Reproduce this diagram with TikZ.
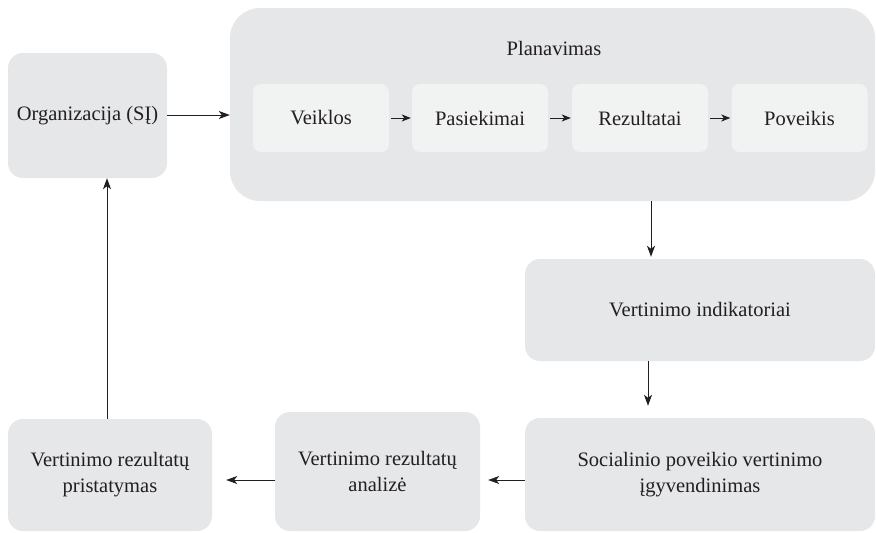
\documentclass[tikz,border=0pt]{standalone}
\usepackage{fontspec}
\setmainfont{Liberation Serif}
\usetikzlibrary{arrows.meta}
\definecolor{boxgray}{HTML}{E6E7E8}
\definecolor{stagegray}{HTML}{F1F2F2}
\definecolor{ink}{HTML}{231F20}

\begin{document}
\begin{tikzpicture}[x = 1pt, y = -1pt,
    box/.style = {fill = boxgray, rounded corners = 15pt, inner sep = 0pt, align = center,
      text = ink, font = \fontsize{20.5}{26}\selectfont},
    stagebox/.style = {fill = stagegray, rounded corners = 8pt, inner sep = 0pt,
      minimum width = 136pt, minimum height = 68pt, text = ink, font = \fontsize{20.5}{26}\selectfont},
    link/.style = {draw = ink, line width = 1pt, -{Stealth[length = 11pt, width = 8pt, inset = 3pt]}},
    steplink/.style = {draw = ink, line width = 1pt, -{Stealth[length = 9pt, width = 7pt, inset = 2.5pt]},
      shorten <= 2pt, shorten >= 1pt}]
    \useasboundingbox (0,0) rectangle (876,533);
    % top row
    \node (org) at (87.5,115.5) [box, minimum width = 159pt, minimum height = 125pt] {Organizacija (SĮ)};
    \node (plan) at (552.5,104.5) [box, rounded corners = 30pt, minimum width = 645pt, minimum height = 193pt] {};
    \node (plantitle) at (554,55) [anchor = base, text = ink, font = \fontsize{20.5}{26}\selectfont] {Planavimas};
    \node (veik) at (321,118) [stagebox] {Veiklos};
    \node (pas) at (480,118) [stagebox] {Pasiekimai};
    \node (rez) at (640,118) [stagebox] {Rezultatai};
    \node (pov) at (799.5,118) [stagebox] {Poveikis};
    % right column
    \node (ind) at (700,310) [box, minimum width = 350pt, minimum height = 102pt] {Vertinimo indikatoriai};
    \node (soc) at (700,474.5) [box, minimum width = 350pt, minimum height = 113pt] {Socialinio poveikio vertinimo\\įgyvendinimas};
    % bottom row
    \node (anal) at (377.5,471.5) [box, minimum width = 205pt, minimum height = 119pt] {Vertinimo rezultatų\\analizė};
    \node (prist) at (110,475) [box, minimum width = 204pt, minimum height = 112pt] {Vertinimo rezultatų\\pristatymas};
    \coordinate (toprow) at (0,115);
    \coordinate (downa) at (651,0);
    \coordinate (downb) at (648,0);
    \coordinate (across) at (0,480);
    \coordinate (up) at (107,0);
    % connectors
    \draw [link] (org.east |- toprow) -- (plan.west |- toprow);
    \draw [steplink] (veik.east) -- (pas.west);
    \draw [steplink] (pas.east) -- (rez.west);
    \draw [steplink] (rez.east) -- (pov.west);
    \draw [link, shorten >= 2pt] (plan.south -| downa) -- (ind.north -| downa);
    \draw [link, shorten >= 12pt] (ind.south -| downb) -- (soc.north -| downb);
    \draw [link, shorten >= 8pt] (soc.west |- across) -- (anal.east |- across);
    \draw [link, shorten >= 14pt] (anal.west |- across) -- (prist.east |- across);
    \draw [link] (prist.north -| up) -- (org.south -| up);
\end{tikzpicture}
\end{document}
